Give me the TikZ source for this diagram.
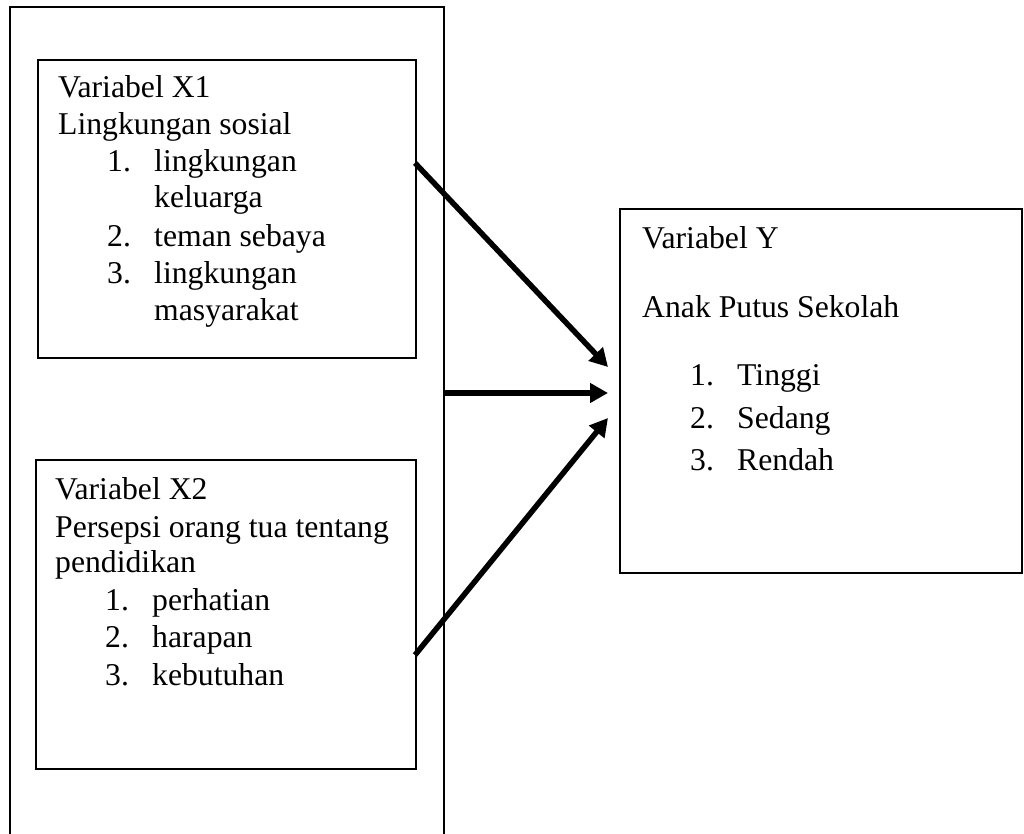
\documentclass[tikz,border=0pt]{standalone}
\usepackage{fontspec}
\setmainfont{Liberation Serif}
\usetikzlibrary{arrows.meta}
\begin{document}
\begin{tikzpicture}[x=1pt,y=-1pt,
  box/.style={draw, line width=2pt, inner sep=0pt, anchor=north west},
  txt/.style={anchor=base west, inner sep=0pt, font=\fontsize{31.7}{37}\selectfont},
  link/.style={line width=5.5pt, -{Triangle[length=18pt,width=19pt]}}]
\useasboundingbox (0,0) rectangle (1024,834);
% outer frame (open at the bottom, runs off the page)
\draw[line width=2pt] (10,840) -- (10,7) -- (444,7) -- (444,840);
% boxes
\node[box, minimum width=378pt, minimum height=298pt] (x1) at (37,59) {};
\node[box, minimum width=380pt, minimum height=309pt] (x2) at (35,459) {};
\node[box, minimum width=402pt, minimum height=364pt] (y) at (619,208) {};
% text X1
\node[txt] (x1a) at (58,98) {Variabel X1};
\node[txt] (x1b) at (58,135) {Lingkungan sosial};
\node[txt] (x1n1) at (107,172) {1.};
\node[txt] (x1i1) at (154,172) {lingkungan};
\node[txt] (x1i1b) at (154,208) {keluarga};
\node[txt] (x1n2) at (107,247) {2.};
\node[txt] (x1i2) at (154,247) {teman sebaya};
\node[txt] (x1n3) at (107,283) {3.};
\node[txt] (x1i3) at (154,283) {lingkungan};
\node[txt] (x1i3b) at (154,320) {masyarakat};
% text X2
\node[txt] (x2a) at (55,499) {Variabel X2};
\node[txt] (x2b) at (55,537) {Persepsi orang tua tentang};
\node[txt] (x2c) at (55,572) {pendidikan};
\node[txt] (x2n1) at (105,610) {1.};
\node[txt] (x2i1) at (152,610) {perhatian};
\node[txt] (x2n2) at (105,647) {2.};
\node[txt] (x2i2) at (152,647) {harapan};
\node[txt] (x2n3) at (105,685) {3.};
\node[txt] (x2i3) at (152,685) {kebutuhan};
% text Y
\node[txt] (ya) at (642,248) {Variabel Y};
\node[txt] (yb) at (642,317) {Anak Putus Sekolah};
\node[txt] (yn1) at (690,385) {1.};
\node[txt] (yi1) at (737,385) {Tinggi};
\node[txt] (yn2) at (690,428) {2.};
\node[txt] (yi2) at (737,428) {Sedang};
\node[txt] (yn3) at (690,470) {3.};
\node[txt] (yi3) at (737,470) {Rendah};
% connector ends
\coordinate (s1) at (415,163);
\coordinate (t1) at (608,367);
\coordinate (s2) at (444,393);
\coordinate (t2) at (608,393);
\coordinate (s3) at (415,655);
\coordinate (t3) at (608,418);
\draw[link] (s1) -- (t1);
\draw[link] (s2) -- (t2);
\draw[link] (s3) -- (t3);
\end{tikzpicture}
\end{document}
